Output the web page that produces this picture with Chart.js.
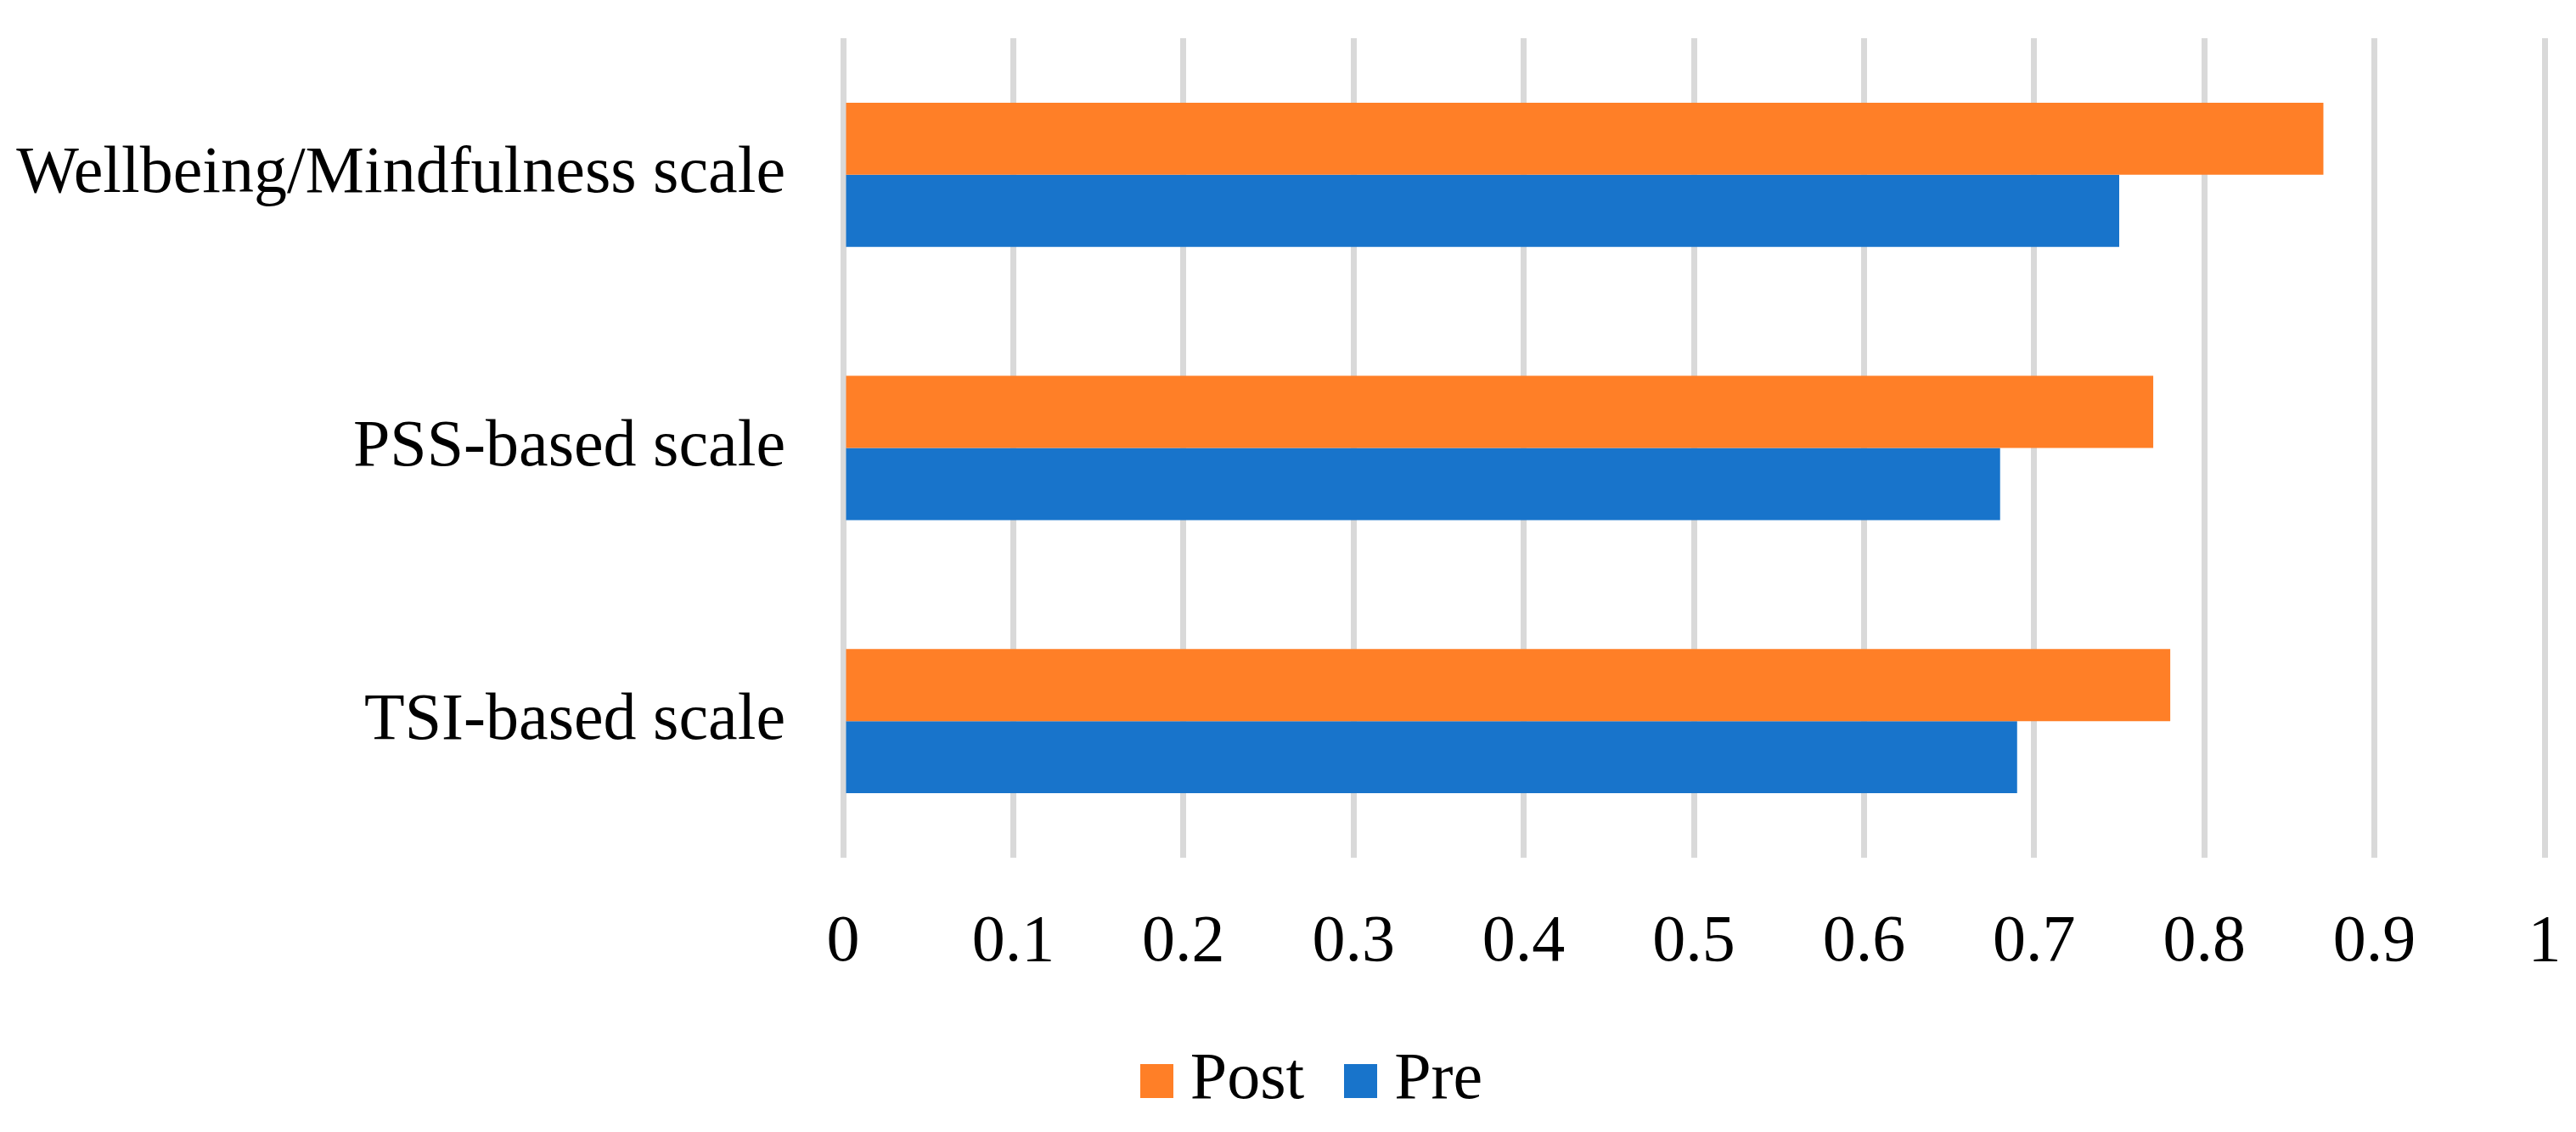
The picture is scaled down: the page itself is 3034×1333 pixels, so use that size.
<!DOCTYPE html>
<html>
<head>
<meta charset="utf-8">
<script src="https://cdn.jsdelivr.net/npm/chart.js@4.4.1/dist/chart.umd.min.js"></script>
<style>
  html, body { margin: 0; padding: 0; background: #fff; }
  #wrap { width: 3034px; height: 1333px; }
</style>
</head>
<body>
<div id="wrap"><canvas id="chart" width="3034" height="1333"></canvas></div>
<script>
// Categorías y valores
const categories = ['Wellbeing/Mindfulness scale', 'PSS-based scale', 'TSI-based scale'];
const postValues = [0.87, 0.77, 0.78];
const preValues = [0.75, 0.68, 0.69];
const xTicks = [0, 0.1, 0.2, 0.3, 0.4, 0.5, 0.6, 0.7, 0.8, 0.9, 1];

const postColor = '#FF7F27';
const preColor = '#1874CB';
const serif = "'Liberation Serif', 'Times New Roman', serif";

// Cuadro de color de la leyenda (más cerca del texto que el de Chart.js)
function swatch(color) {
  const c = document.createElement('canvas');
  c.width = 39;
  c.height = 40;
  const g = c.getContext('2d');
  g.fillStyle = color;
  g.fillRect(0, 0, 39, 40);
  return c;
}
const swatches = [swatch(postColor), swatch(preColor)];

// El eje Y empieza en el borde del lienzo para que sus etiquetas no se recorten
const yLabelArea = {
  id: 'yLabelArea',
  afterLayout(chart) { chart.scales.y.left = 0; }
};

const ctx = document.getElementById('chart').getContext('2d');

new Chart(ctx, {
  type: 'bar',
  data: {
    labels: categories,
    datasets: [
      { label: 'Post', data: postValues, backgroundColor: postColor, borderWidth: 0 },
      { label: 'Pre', data: preValues, backgroundColor: preColor, borderWidth: 0 }
    ]
  },
  plugins: [yLabelArea],
  options: {
    indexAxis: 'y',
    responsive: false,
    animation: false,
    devicePixelRatio: 1,
    layout: { padding: { top: 45, right: 37, left: 111, bottom: 11 } },
    datasets: { bar: { barPercentage: 1, categoryPercentage: 0.528 } },
    scales: {
      x: {
        min: 0,
        max: 1,
        afterBuildTicks: (scale) => { scale.ticks = xTicks.map(v => ({ value: v })); },
        afterFit: (scale) => {
          scale.height = 158;
          scale.paddingLeft = 0;
          scale.paddingRight = 0;
        },
        grid: { color: '#D9D9D9', lineWidth: 7, drawTicks: false },
        border: { display: false },
        ticks: {
          color: '#000',
          padding: 54,
          font: { family: serif, size: 78 },
          callback: (v) => String(v)
        }
      },
      y: {
        afterFit: (scale) => {
          scale.width = 993 - 111;
          scale.paddingTop = 0;
          scale.paddingBottom = 0;
        },
        grid: { display: false, drawTicks: false },
        border: { display: false },
        ticks: {
          color: '#000',
          padding: 68,
          font: { family: serif, size: 78 }
        }
      }
    },
    plugins: {
      tooltip: { enabled: false },
      legend: {
        position: 'bottom',
        labels: {
          color: '#000',
          usePointStyle: true,
          pointStyleWidth: 1,
          boxHeight: 40,
          padding: 66,
          font: { family: serif, size: 78 },
          generateLabels: (chart) =>
            Chart.defaults.plugins.legend.labels.generateLabels(chart)
              .map((item, i) => ({ ...item, pointStyle: swatches[i] }))
        }
      }
    }
  }
});
</script>
</body>
</html>
